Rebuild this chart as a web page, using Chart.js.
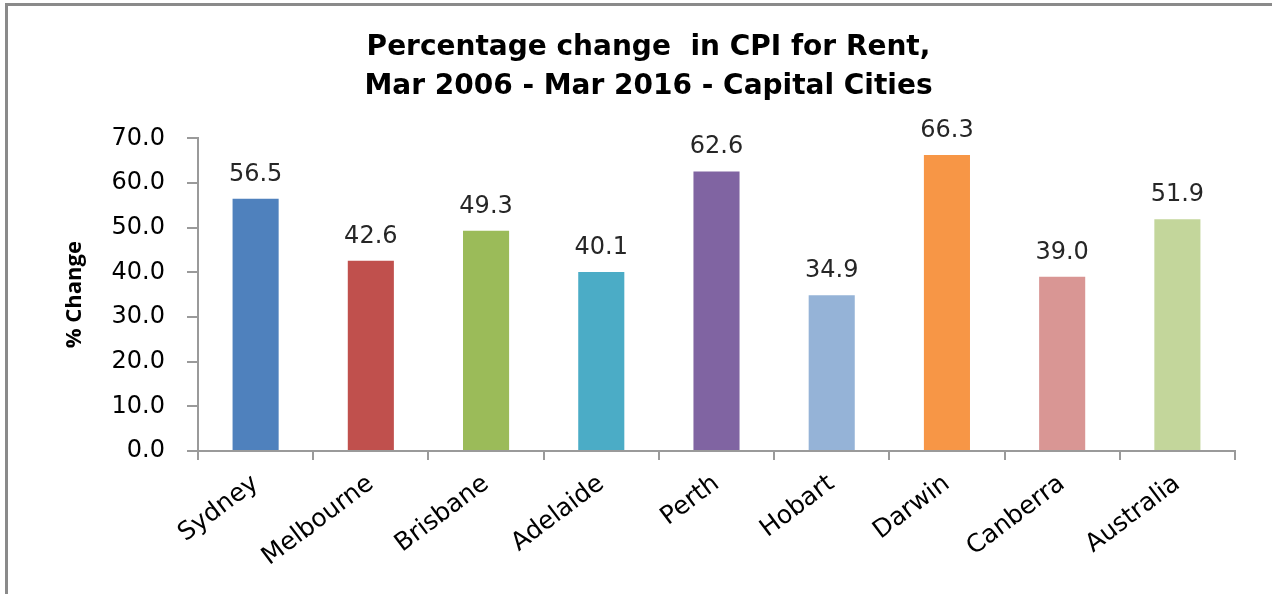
<!DOCTYPE html>
<html>
<head>
<meta charset="utf-8">
<script src="https://cdn.jsdelivr.net/npm/chart.js@4"></script>
<style>
  html, body { margin: 0; padding: 0; background: #fff; }
  #wrap { position: relative; width: 1272px; height: 594px; overflow: hidden; }
  #frame { position: absolute; left: 5px; top: 3px; right: -10px; bottom: -10px;
           border-left: 3px solid #8a8a8a; border-top: 3px solid #8a8a8a; pointer-events: none; }
</style>
</head>
<body>
<div id="wrap">
  <canvas id="cpiChart" width="1272" height="594"></canvas>
  <div id="frame"></div>
</div>
<script>
const cities = ['Sydney', 'Melbourne', 'Brisbane', 'Adelaide', 'Perth', 'Hobart', 'Darwin', 'Canberra', 'Australia'];
const rentChange = [56.5, 42.6, 49.3, 40.1, 62.6, 34.9, 66.3, 39.0, 51.9];
const barColors = ['#4F81BD', '#C0504D', '#9BBB59', '#4BACC6', '#8064A2', '#95B3D7', '#F79646', '#D99694', '#C3D69B'];
const titleLines = ['Percentage change  in CPI for Rent,', 'Mar 2006 - Mar 2016 - Capital Cities'];
const yTitle = '% Change';

const WIDE = "'DejaVu Sans', Verdana, sans-serif";
const NARROW = "'Open Sans', 'Liberation Sans', sans-serif";

// values above each bar
const valueLabels = {
  id: 'valueLabels',
  afterDatasetsDraw(chart) {
    const ctx = chart.ctx;
    const meta = chart.getDatasetMeta(0);
    ctx.save();
    ctx.font = '24px ' + WIDE;
    ctx.fillStyle = '#262626';
    ctx.textAlign = 'center';
    ctx.textBaseline = 'alphabetic';
    meta.data.forEach((bar, i) => {
      ctx.fillText(rentChange[i].toFixed(1), bar.x, bar.y - 18);
    });
    ctx.restore();
  }
};

const ctx = document.getElementById('cpiChart').getContext('2d');
new Chart(ctx, {
  type: 'bar',
  data: {
    labels: cities,
    datasets: [{
      label: 'Rent',
      data: rentChange,
      backgroundColor: barColors,
      borderWidth: 0,
      categoryPercentage: 1.0,
      barPercentage: 0.4
    }]
  },
  options: {
    responsive: false,
    animation: false,
    layout: { padding: { left: 62, right: 37, top: 0, bottom: 0 } },
    plugins: {
      legend: { display: false },
      tooltip: { enabled: false },
      title: {
        display: true,
        text: titleLines,
        color: '#000',
        font: { family: WIDE, size: 28, weight: 'bold', lineHeight: 1.4 },
        padding: { top: 28, bottom: 32 }
      }
    },
    scales: {
      x: {
        grid: { display: true, drawOnChartArea: false, drawTicks: true, tickLength: 9, color: '#9a9a9a', lineWidth: 2 },
        border: { display: true, color: '#9a9a9a', width: 2 },
        ticks: {
          color: '#000',
          font: { family: WIDE, size: 25 },
          maxRotation: 37,
          minRotation: 37,
          padding: 9
        },
        afterFit(scale) { scale.height = 143; }
      },
      y: {
        min: 0,
        max: 70,
        grid: { display: true, drawOnChartArea: false, drawTicks: true, tickLength: 11, color: '#9a9a9a', lineWidth: 2 },
        border: { display: true, color: '#9a9a9a', width: 2 },
        ticks: {
          stepSize: 10,
          color: '#000',
          padding: 22,
          font: { family: WIDE, size: 24 },
          callback: v => v.toFixed(1)
        },
        title: {
          display: true,
          text: yTitle,
          color: '#000',
          font: { family: NARROW, size: 22, weight: 'bold' },
          padding: { top: 0, bottom: 0 }
        },
        afterFit(scale) { scale.width = 136; }
      }
    }
  },
  plugins: [valueLabels]
});
</script>
</body>
</html>
